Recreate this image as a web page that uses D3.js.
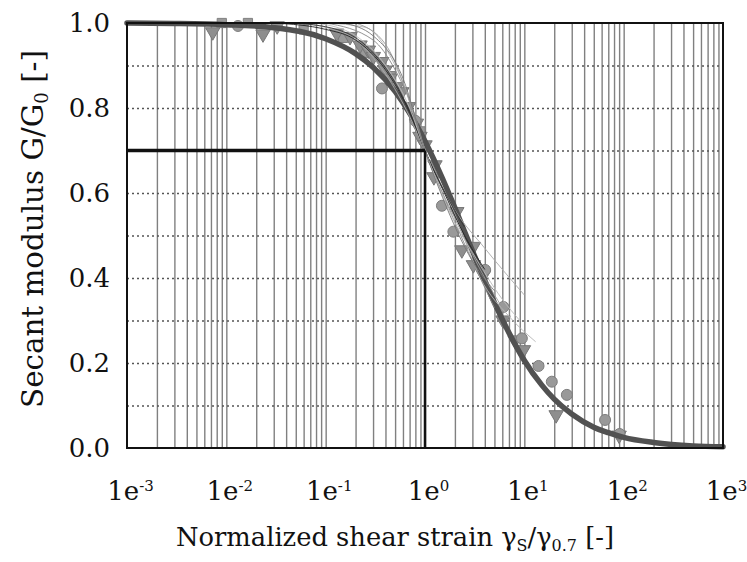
<!DOCTYPE html>
<html><head><meta charset="utf-8">
<script src="https://cdn.jsdelivr.net/npm/d3@7"></script>
<style>body{margin:0;background:#fff}svg{display:block}</style>
</head><body>
<svg id="c" width="747" height="562"></svg>
<script>
// Reference curve
const curveX=[0.001,0.003,0.01,0.03,0.1,0.2,0.3,0.5,0.7,1,1.5,2,3,5,7,10,15,20,30,50,70,100,200,500,1000];
const curveY=[1.0,0.999,0.996,0.989,0.963,0.928,0.896,0.839,0.788,0.722,0.634,0.565,0.464,0.342,0.271,0.206,0.148,0.115,0.080,0.049,0.036,0.025,0.013,0.005,0.003];
// Individual test curves (thin lines)
const thinCurves=[
 {c:"#aaa",x:[0.05,0.1,0.2,0.4,0.7,1,2,4,10],y:[1.0,0.99,0.96,0.88,0.78,0.7,0.56,0.47,0.36]},
 {c:"#b5b5b5",x:[0.1,0.25,0.5,0.7,1,2,3.6,7,13],y:[1.0,0.99,0.9,0.82,0.7,0.55,0.40,0.31,0.25]},
 {c:"#222",x:[0.03,0.1,0.2,0.4,0.7,1,1.5,2.5,4],y:[1.0,0.985,0.96,0.89,0.79,0.7,0.61,0.5,0.42]},
 {c:"#333",x:[0.05,0.15,0.3,0.5,0.8,1,1.6,2.5],y:[1.0,0.98,0.93,0.86,0.76,0.7,0.6,0.52]},
 {c:"#888",x:[0.1,0.3,0.5,0.8,1,1.5,2.5,5],y:[1.0,0.96,0.89,0.78,0.7,0.6,0.48,0.33]},
 {c:"#999",x:[0.2,0.4,0.6,0.8,1,2,4,6],y:[1.0,0.95,0.86,0.77,0.7,0.54,0.4,0.33]},
 {c:"#bbb",x:[0.08,0.2,0.4,0.7,1,2,3,6,9],y:[1.0,0.97,0.9,0.8,0.7,0.53,0.46,0.35,0.3]},
 {c:"#777",x:[0.15,0.3,0.6,1,1.5,3,5],y:[1.0,0.97,0.87,0.7,0.59,0.44,0.37]}
];
// Test data markers
const circleX=[0.0131,0.369,0.80,1.48,1.93,4.03,6.16,9.44,13.9,18.9,26.8,65,91];
const circleY=[0.993,0.846,0.77,0.570,0.509,0.419,0.332,0.258,0.193,0.156,0.125,0.066,0.033];
const triX=[0.0073,0.0234,0.0325,0.129,0.176,0.222,0.269,0.302,0.367,0.397,0.445,0.52,0.584,0.681,0.82,0.89,1.0,1.26,1.23,2.09,2.35,3.07,3.07,3.88,6.1,8.07,9.8,20.9,90];
const triY=[0.979,0.974,0.993,0.976,0.968,0.948,0.936,0.921,0.909,0.889,0.870,0.850,0.838,0.803,0.764,0.733,0.713,0.666,0.638,0.556,0.466,0.474,0.431,0.407,0.301,0.254,0.231,0.078,0.03];
const sqX=[0.009,0.0165,0.06,0.15,0.25,0.45,0.9];
const sqY=[1.0,1.0,0.985,0.965,0.93,0.875,0.745];
// Axes
const xTicks=[1e-3,1e-2,1e-1,1e0,1e1,1e2,1e3];
const xTickExp=["-3","-2","-1","0","1","2","3"];
const yTicks=[0,0.2,0.4,0.6,0.8,1.0];
const yGrid=[0.1,0.2,0.3,0.4,0.5,0.6,0.7,0.8,0.9];
const refX=1, refY=0.7;

const svg=d3.select("#c");
const L=127,R=723,T=23,B=448;
const x=d3.scaleLog().domain([1e-3,1e3]).range([L,R]);
const y=d3.scaleLinear().domain([0,1]).range([B,T]);
const FONT="DejaVu Serif";

// vertical log grid
const vgrid=[];
for(let e=-3;e<3;e++){for(let m=1;m<=9;m++){const v=m*Math.pow(10,e); if(v>1e-3) vgrid.push(v);}}
svg.append("g").attr("transform",`translate(0,${B})`)
 .call(d3.axisBottom(x).tickValues(vgrid).tickSize(-(B-T)).tickFormat(""))
 .call(g=>g.select(".domain").remove())
 .call(g=>g.selectAll("line").attr("stroke","#808080").attr("stroke-width",1.4));
// horizontal dotted grid
svg.append("g").attr("transform",`translate(${L},0)`)
 .call(d3.axisLeft(y).tickValues(yGrid).tickSize(-(R-L)).tickFormat(""))
 .call(g=>g.select(".domain").remove())
 .call(g=>g.selectAll("line").attr("stroke","#555").attr("stroke-width",1.3).attr("stroke-dasharray","2,3"));

// markers
const mk=svg.append("g");
mk.selectAll("path.sq").data(d3.range(sqX.length)).join("path")
 .attr("d",d3.symbol(d3.symbolSquare,85))
 .attr("transform",i=>`translate(${x(sqX[i])},${y(sqY[i])})`)
 .attr("fill","#9a9a9a").attr("stroke","#808080");
mk.selectAll("path.tri").data(d3.range(triX.length)).join("path")
 .attr("d",d3.symbol(d3.symbolTriangle,90))
 .attr("transform",i=>`translate(${x(triX[i])},${y(triY[i])}) rotate(180)`)
 .attr("fill","#8e8e8e").attr("stroke","#777");
mk.selectAll("circle").data(d3.range(circleX.length)).join("circle")
 .attr("cx",i=>x(circleX[i])).attr("cy",i=>y(circleY[i])).attr("r",5.5)
 .attr("fill","#999").attr("stroke","#7d7d7d");

const line=d3.line().x(d=>x(d[0])).y(d=>y(d[1])).curve(d3.curveMonotoneX);
// main curve
svg.append("path").datum(curveX.map((v,i)=>[v,curveY[i]])).attr("d",line)
 .attr("fill","none").attr("stroke","#515151").attr("stroke-width",5.5).attr("stroke-linecap","round");
// thin curves
svg.append("g").selectAll("path").data(thinCurves).join("path")
 .attr("d",c=>line(c.x.map((v,i)=>[v,c.y[i]])))
 .attr("fill","none").attr("stroke",c=>c.c).attr("stroke-width",0.9);

// reference lines
svg.append("line").attr("x1",L).attr("x2",x(refX)).attr("y1",y(refY)).attr("y2",y(refY))
 .attr("stroke","#111").attr("stroke-width",3.5);
svg.append("line").attr("x1",x(refX)).attr("x2",x(refX)).attr("y1",B).attr("y2",y(refY))
 .attr("stroke","#111").attr("stroke-width",2.5);

// frame
svg.append("rect").attr("x",L).attr("y",T).attr("width",R-L).attr("height",B-T)
 .attr("fill","none").attr("stroke","#111").attr("stroke-width",2);

// y axis labels
svg.append("g").attr("transform",`translate(${L},0)`)
 .call(d3.axisLeft(y).tickValues(yTicks).tickSize(0).tickPadding(17).tickFormat(d3.format(".1f")))
 .call(g=>g.select(".domain").remove())
 .call(g=>g.selectAll("text").attr("font-family",FONT).attr("font-size",26).attr("fill","#111"));

// x axis labels
const xa=svg.append("g").attr("transform",`translate(0,${B})`)
 .call(d3.axisBottom(x).tickValues(xTicks).tickSize(0).tickFormat(""))
 .call(g=>g.select(".domain").remove());
xa.selectAll(".tick text").each(function(d,i){
  const t=d3.select(this).attr("y",52).attr("dy",null).attr("font-family",FONT).attr("font-size",26).attr("fill","#111").attr("x",3);
  t.append("tspan").text("1e");
  t.append("tspan").attr("font-size",15).attr("baseline-shift","9").text(xTickExp[i]);
});

// axis titles
function fit(t,target){const w=t.node().getComputedTextLength();const fs=+t.attr("font-size");t.attr("font-size",fs*target/w);}
const xt=svg.append("text").attr("x",395).attr("y",546).attr("text-anchor","middle")
 .attr("font-family",FONT).attr("font-size",26).attr("fill","#111");
xt.append("tspan").text("Normalized shear strain γ");
xt.append("tspan").attr("font-size","0.62em").attr("baseline-shift","-0.3em").text("S");
xt.append("tspan").text("/γ");
xt.append("tspan").attr("font-size","0.62em").attr("baseline-shift","-0.3em").text("0.7");
xt.append("tspan").text(" [-]");
fit(xt,438);

const yt=svg.append("text").attr("transform","translate(43,229) rotate(-90)").attr("text-anchor","middle")
 .attr("font-family",FONT).attr("font-size",26).attr("fill","#111");
yt.append("tspan").text("Secant modulus G/G");
yt.append("tspan").attr("font-size","0.62em").attr("baseline-shift","-0.3em").text("0");
yt.append("tspan").text(" [-]");
fit(yt,358);
</script>
</body></html>
